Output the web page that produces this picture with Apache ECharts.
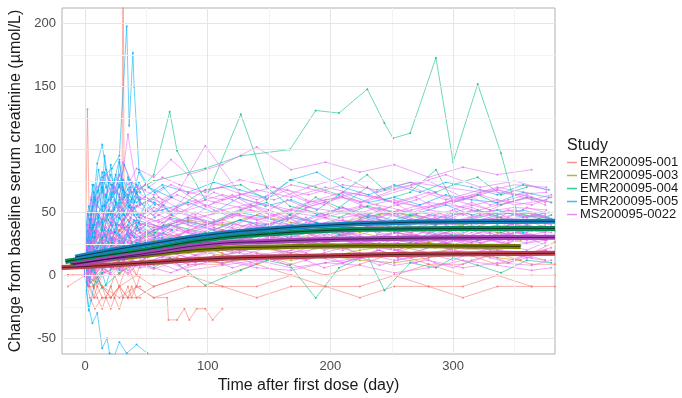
<!DOCTYPE html>
<html><head><meta charset="utf-8">
<script src="https://cdn.jsdelivr.net/npm/echarts@6/dist/echarts.min.js"></script>
<style>html,body{margin:0;padding:0;background:#fff}#c{width:682px;height:398px}</style>
</head><body><div id="c"></div>
<script>
// ---------- labels ----------
const studies = ['EMR200095-001','EMR200095-003','EMR200095-004','EMR200095-005','MS200095-0022'];
const colors  = ['#F8766D','#A3A500','#00BF7D','#00B0F6','#E76BF3'];
const fitColors = ['#b9404c','#7d7e08','#0b8a5c','#1683bd','#a846b8'];
const xTicks = [0,100,200,300];
const xMinor = [50,150,250,350];
const yTicks = [-50,0,50,100,150,200];
const yMinor = [-25,25,75,125,175];
const xTitle = 'Time after first dose (day)';
const yTitle = 'Change from baseline serum creatinine (µmol/L)';
const legendTitle = 'Study';

// ---------- EMR200095-001 (red) ----------
const red_days = [-14,0,4,8,14,21,28,35,42,56,84,112,140,168,196,224,252,280,308,336,364,383];
const red_rows = [
 [0,0,-8.8,-17.7,-8.8,-17.7,-8.8,-17.7,-17.7,-8.8,0,-8.8,-8.8,0,-8.8,-8.8,0,-8.8,-8.8,0,-8.8,-8.8],
 [0,0,8.8,17.7,8.8,17.7,26.5,17.7,8.8,17.7,26.5,17.7,8.8,17.7,26.5,17.7,17.7,26.5,17.7,8.8,17.7,26.5],
 [0,0,0,0,8.8,0,0,8.8,0,0,0,0,8.8,0,0,0,0,8.8,0,0,0,0],
 [-8.8,0,-17.7,-26.5,-17.7,-17.7,-8.8,-17.7,-8.8,-17.7,-8.8,-8.8,-17.7,-8.8,-8.8,-17.7,-8.8,-8.8,-17.7,-8.8,-8.8,null],
 [0,0,17.7,26.5,35.4,26.5,35.4,44.2,35.4,26.5,35.4,44.2,35.4,26.5,35.4,44.2,35.4,26.5,35.4,44.2,35.4,35.4],
 [0,0,8.8,0,8.8,17.7,8.8,0,8.8,17.7,8.8,8.8,17.7,8.8,0,8.8,17.7,8.8,8.8,17.7,8.8,8.8]
];
const red_short_days = [0,3,7,10,14,17,21,24,28,31,35,38,42,45];
const red_short_rows = [
 [0,-8.8,-17.7,-8.8,-17.7,-17.7,-26.5,-17.7,-8.8,-17.7,-17.7,-8.8,-17.7,-17.7],
 [0,8.8,0,-8.8,0,8.8,17.7,8.8,0,8.8,17.7,8.8,0,8.8],
 [0,-8.8,-8.8,-17.7,-26.5,-17.7,-8.8,-17.7,-26.5,-17.7,-8.8,-17.7,-8.8,-8.8],
 [0,17.7,26.5,35.4,26.5,44.2,35.4,26.5,35.4,44.2,35.4,26.5,17.7,26.5],
 [0,0,-8.8,0,-8.8,-17.7,-8.8,0,-8.8,0,8.8,0,-8.8,0]
];
const red_low = [[0,0],[14,-8.8],[28,-17.7],[42,-8.8],[56,-17.7],[67,-17.7],[68,-35.4],[75,-35.4],[81,-26.5],[85,-35.4],[91,-26.5],[98,-26.5],[104,-35.4],[112,-26.5]];
const red_spike1 = [[-10,0],[0,0],[2,132],[4,8.8],[8,0],[14,-8.8],[21,-17.7],[28,-8.8],[42,0],[56,-8.8],[84,0]];
const red_spike2 = [[0,0],[7,8.8],[14,17.7],[21,8.8],[28,17.7],[30,17.7],[31,300],[32,8.8],[35,26.5],[42,17.7],[56,8.8],[84,17.7],[112,8.8]];

// ---------- EMR200095-003 (olive) ----------
const olive_days = [0,7,14,28,42,56,84,112,140,168,196,224,252,280,308,336,355];
const olive_rows = [
 [0,10,18,24,20,28,26,32,28,24,30,34,28,26,32,30,28],
 [0,4,8,14,10,16,20,16,22,18,14,20,24,18,22,20,24],
 [0,20,30,36,42,38,44,40,48,42,38,46,50,44,40,46,42],
 [0,-4,2,6,10,8,12,10,14,12,16,12,10,14,18,14,12],
 [0,14,24,20,28,34,30,36,32,28,36,40,34,30,38,34,36]
];

// ---------- EMR200095-004 (green) ----------
const green_days = [0,7,14,28,42,56,69,98,127,148,167,188,207,230,244,265,286,300,320,339,360,380];
const green_rows = [
 [0,12,22,30,26,36,40,34,44,38,48,42,36,46,50,44,40,48,52,46,42,48],
 [0,-8,5,12,20,16,24,30,26,34,28,22,32,38,30,26,36,32,28,34,40,36],
 [0,30,45,40,55,62,50,68,72,60,76,70,64,80,68,74,66,72,78,64,70,null],
 [0,5,-10,2,10,6,14,-8,4,12,8,-18,6,16,-12,10,6,14,8,2,12,10],
 [0,18,28,24,38,32,46,40,52,58,48,62,54,70,60,66,84,58,64,56,62,58]
];
const green_big = [[0,0],[14,40],[28,60],[56,75],[98,85],[127,95],[167,100],[188,131],[207,129],[230,148],[244,121],[251,109],[265,113],[286,173],[300,90],[320,152],[339,97],[352,50],[370,45]];
const green_spike = [[0,0],[14,30],[28,50],[42,65],[56,80],[69,130],[75,99],[98,60],[127,128],[148,70],[167,55],[188,50],[207,46],[230,55],[265,48],[300,42],[339,50],[380,45]];

// ---------- EMR200095-005 (blue) ----------
const blue_short_days = [0,1,3,5,7,10,14,17,21,24,28,31,35,38,42,45];
const blue_short_rows = [
 [0,15,30,45,62,55,70,58,88,65,72,60,78,66,null,null],
 [0,20,35,50,58,89,104,84,72,66,80,70,62,58,66,60],
 [0,8,18,12,28,22,36,30,42,34,48,40,null,null,null,null],
 [0,30,22,44,38,56,50,64,48,60,54,68,58,52,62,56],
 [0,4,10,2,14,8,20,12,24,16,10,22,18,null,null,null],
 [0,40,55,48,66,58,74,62,80,70,64,76,68,60,72,66],
 [0,12,24,36,30,42,36,48,40,54,null,null,null,null,null,null],
 [0,-6,5,15,10,22,18,28,24,34,30,26,36,32,40,34],
 [0,18,32,26,40,50,44,56,62,52,58,48,60,54,null,null],
 [0,10,4,16,20,14,26,22,30,18,28,24,32,26,22,30],
 [0,-12,-28,-20,-10,-5,2,-8,5,10,4,12,null,null,null,null],
 [0,25,48,60,72,66,82,70,64,76,92,68,60,74,66,58]
];
const blue_mid_days = [0,2,4,6,8,11,14,16,19,22,25,28,32,36,40,44,50,57,64,71];
const blue_mid_rows = [
 [0,20,45,30,60,42,70,55,48,66,58,75,62,54,68,60,52,58,null,null],
 [0,-8,12,4,20,14,30,22,36,28,40,32,26,38,30,42,36,30,34,28],
 [0,35,25,55,40,68,52,82,60,72,56,90,64,70,58,74,62,56,null,null],
 [0,10,22,16,30,24,38,32,26,40,34,46,38,30,44,36,40,34,40,36],
 [0,5,-5,10,2,16,8,22,14,26,18,12,24,20,null,null,null,null,null,null],
 [0,50,38,72,60,84,66,95,74,62,80,70,88,76,68,82,72,66,70,62],
 [0,15,28,40,34,48,42,36,52,46,58,50,44,56,48,42,52,46,null,null],
 [0,28,18,38,30,46,36,56,44,50,40,62,48,42,54,46,58,50,56,48]
];
const blue_long_days = [0,3,7,14,21,28,35,42,63,84,105,126,147,168,189,210,231,252,273,294,315,336,357,378];
const blue_long_rows = [
 [0,20,35,42,50,45,55,48,52,58,50,62,55,60,52,66,58,62,56,64,60,58,66,62],
 [0,10,18,25,30,26,34,30,38,42,36,44,40,46,42,38,48,44,50,46,42,48,52,46],
 [0,28,40,55,60,70,64,58,72,66,74,68,62,76,82,70,64,72,66,74,70,64,72,68],
 [0,5,12,18,14,22,20,26,30,24,32,28,34,30,36,32,28,34,38,30,36,40,34,38],
 [0,15,22,30,36,32,40,44,38,46,42,50,46,40,48,54,46,42,50,56,48,52,46,50]
];
const blue_low = [[0,0],[3,-25],[6,-38],[10,-30],[14,-58],[18,-50],[20,-62],[24,-64],[28,-53],[34,-62],[42,-55],[51,-62]];
const blue_spike = [[0,0],[4,40],[8,60],[14,78],[22,85],[28,95],[34,198],[36,119],[39,177],[40,150],[44,84],[52,70],[70,62]];

// ---------- MS200095-0022 (magenta) ----------
const ms_daysA = [0,3,7,14,21,28,35,42,56,70,84,112,140,168,196,224,252,280,308,336,364,380];
const ms_daysB = [0,2,5,10,17,24,31,38,49,63,77,98,126,154,182,210,238,266,294,322,350,376];
const ms_daysC = [0,4,9,16,23,30,37,45,60,75,90,105,120,135,150,165,180,195,210,225,240,255,270,285,300,315,330,345,360,375];
const ms_rowsA = [
 [0,12,20,28,35,30,38,42,40,36,45,50,44,52,48,55,50,58,54,60,56,62],
 [0,20,35,45,40,55,48,62,58,50,65,70,60,72,66,58,68,75,62,70,65,null],
 [0,15,25,32,28,40,35,30,38,45,40,35,42,38,46,40,36,44,50,42,48,45],
 [0,2,5,10,6,12,8,15,12,18,14,10,16,20,14,18,12,16,22,18,14,null],
 [0,10,14,22,18,26,20,28,24,30,22,32,28,36,30,26,34,30,38,32,36,34],
 [0,-8,-2,4,0,6,2,8,5,10,4,8,12,6,10,14,8,12,6,10,8,12],
 [0,35,60,75,68,80,72,85,78,92,80,88,102,84,90,82,88,78,86,80,84,null],
 [0,22,30,38,45,40,50,46,54,48,42,52,58,50,46,54,60,52,48,56,62,58],
 [0,28,42,50,58,52,60,55,48,62,56,64,58,52,60,66,58,54,62,68,60,64],
 [0,16,26,20,30,24,34,28,32,26,36,30,40,34,38,32,42,36,30,38,44,40],
 [0,4,0,6,2,8,4,10,6,2,8,12,6,4,10,8,2,6,12,8,4,6],
 [0,20,28,24,34,30,26,36,30,40,34,28,38,32,26,36,42,34,30,38,32,36],
 [0,40,58,66,75,62,112,70,64,72,66,60,68,62,70,64,58,66,60,68,62,null],
 [0,12,18,26,22,30,34,28,36,40,34,42,38,46,40,44,38,48,42,46,50,44],
 [0,-4,4,10,16,12,20,16,22,18,14,20,24,18,22,26,20,16,24,20,18,22]
];
const ms_rowsB = [
 [0,5,10,8,15,12,18,22,20,25,18,28,24,30,26,22,30,28,34,30,32,28],
 [0,-5,2,8,4,10,6,12,10,15,8,14,18,12,16,10,20,14,18,22,16,20],
 [0,8,18,25,22,30,26,35,28,32,38,30,36,42,34,40,45,38,42,48,40,44],
 [0,25,40,55,48,60,52,70,62,58,68,103,65,60,70,78,66,72,80,70,75,68],
 [0,30,50,62,55,70,58,66,72,60,68,55,64,70,58,66,62,70,60,68,64,66],
 [0,18,22,30,35,28,38,32,40,36,44,40,48,42,38,46,50,44,40,48,52,46],
 [0,6,12,20,16,24,20,18,26,22,28,24,20,30,26,22,28,32,26,30,24,28],
 [0,12,8,16,12,20,14,24,18,14,22,26,20,16,24,28,22,18,26,30,24,null],
 [0,3,8,14,10,18,12,22,16,20,26,22,18,28,24,20,30,26,22,28,34,30],
 [0,40,62,70,80,66,90,74,68,78,72,66,76,70,64,72,68,74,70,66,72,70],
 [0,14,24,32,28,36,30,40,34,38,32,42,36,30,40,44,38,34,42,36,40,38],
 [0,10,20,15,25,20,30,24,20,28,22,32,26,22,30,34,28,24,32,26,30,28],
 [0,8,14,10,18,22,16,24,20,26,30,24,28,34,28,24,32,36,30,26,34,30],
 [0,24,34,42,38,48,44,52,46,42,50,56,48,44,54,50,46,52,58,50,54,52],
 [0,32,46,40,54,48,58,52,46,56,50,60,54,48,58,62,56,50,58,64,56,60]
];
const ms_rowsC = [
 [0,8,15,22,18,26,30,24,32,28,34,30,26,32,36,30,34,28,32,38,34,30,36,32,28,34,38,32,36,34],
 [0,18,28,36,42,38,46,40,44,50,46,42,48,52,46,50,44,48,54,50,46,52,48,44,50,54,48,52,46,50],
 [0,-3,4,8,12,10,16,14,18,12,16,20,14,18,22,16,12,18,22,16,20,14,18,24,20,16,22,18,14,20],
 [0,26,38,46,52,58,50,56,62,54,48,58,64,56,52,60,54,58,62,56,50,58,62,54,60,56,52,58,62,56],
 [0,10,20,16,24,20,28,24,30,26,22,28,32,26,30,24,28,34,28,24,30,26,32,28,24,30,34,28,26,30],
 [0,4,12,20,26,22,30,34,28,36,32,38,34,30,36,40,34,38,32,36,42,36,32,38,34,40,36,32,38,36],
 [0,14,24,18,30,26,20,28,34,30,24,32,28,22,30,36,28,24,32,26,30,34,28,24,30,36,30,26,32,28],
 [0,32,48,56,50,44,52,58,48,54,60,52,46,56,50,44,54,58,50,46,52,56,48,44,52,58,52,46,54,50],
 [0,6,2,10,6,14,8,12,18,14,10,16,12,8,14,18,12,16,10,14,20,14,10,16,12,18,14,10,16,12],
 [0,20,34,28,40,34,44,38,32,40,46,38,34,42,36,40,46,38,34,42,48,40,36,44,38,42,36,40,44,38],
 [0,12,18,24,30,26,20,28,24,32,28,22,30,26,34,28,24,30,36,30,26,32,28,24,30,26,32,28,34,30],
 [0,36,56,64,72,60,68,62,56,64,58,66,60,54,62,68,60,56,64,58,62,56,60,66,58,62,56,60,64,58],
 [0,2,8,14,20,16,22,18,24,20,26,22,18,24,28,22,26,20,24,30,24,20,26,22,28,24,20,26,30,24],
 [0,16,30,38,34,42,36,30,38,44,38,32,40,46,40,34,42,38,44,40,36,42,38,46,40,36,42,46,40,44],
 [0,-6,-2,2,6,4,8,6,10,4,8,12,6,10,14,8,12,6,10,14,8,12,16,10,6,12,16,10,14,12],
 [0,22,36,30,44,52,46,40,48,42,50,44,38,46,52,46,40,48,54,46,42,50,44,48,52,46,42,50,46,48],
 [0,9,16,12,22,18,26,20,24,30,26,22,28,32,26,30,24,28,34,28,24,30,26,32,28,26,30,34,28,32],
 [0,28,20,34,26,40,32,46,38,30,42,36,28,40,34,46,38,32,40,36,44,38,32,40,46,38,34,42,38,40],
 [0,12,6,18,24,20,14,22,28,22,16,24,20,26,30,24,18,26,22,28,24,20,26,30,24,22,28,24,20,26],
 [0,40,30,50,44,38,56,48,42,52,46,40,50,56,48,44,52,46,40,50,54,48,44,50,46,52,48,44,50,46]
];

// ---------- model fits ----------
const fit001 = [[-19,6.3],[0,7],[25,8.5],[50,10],[100,13],[150,14.5],[200,15.5],[250,16.5],[300,17],[383,17.5]];
const fit003 = [[-12,9],[0,10.5],[25,13.5],[50,16],[100,21],[150,22.5],[200,23.3],[250,23.5],[300,23.4],[355,23]];
const fit004 = [[-16,11],[0,13.5],[25,17],[50,20.5],[100,28.5],[150,33],[200,35.8],[250,36.8],[300,37.2],[383,37.3]];
const fit005 = [[-8,14.5],[0,16],[25,20.5],[50,24.5],[100,32],[150,36.8],[200,40],[250,41.8],[300,42.6],[383,43]];
const fitMS  = [[-10,8.5],[0,10],[25,14],[50,17.5],[100,24.5],[150,27],[200,28.5],[250,29.3],[300,29.8],[383,30.2]];

// ---------- build ----------
function subj(name, color, pts){
  return {type:'line', name:name, data:pts, showSymbol:true, showAllSymbol:true,
    symbol:'circle', symbolSize:2, silent:true, z:2,
    lineStyle:{color:color, width:0.8, opacity:0.72},
    itemStyle:{color:color, opacity:0.8}};
}
function fromRows(name, color, days, rows){
  return rows.map(r => subj(name, color, days.map((d,i)=>[d, r[i]]).filter(p => p[1] !== null)));
}
const series = [];
const gl = [];
xMinor.forEach(v => gl.push({xAxis:v, lineStyle:{color:'#f3f3f3', width:1, type:'solid'}}));
yMinor.forEach(v => gl.push({yAxis:v, lineStyle:{color:'#f3f3f3', width:1, type:'solid'}}));
xTicks.forEach(v => gl.push({xAxis:v, lineStyle:{color:'#e5e5e5', width:1, type:'solid'}}));
yTicks.forEach(v => gl.push({yAxis:v, lineStyle:{color:'#e5e5e5', width:1, type:'solid'}}));
series.push({type:'line', name:'grid', data:[[0,0]], symbol:'none', lineStyle:{opacity:0}, silent:true, z:1,
  markLine:{silent:true, symbol:['none','none'], label:{show:false}, animation:false, data:gl}});

series.push(...fromRows(studies[0], colors[0], red_days, red_rows));
series.push(...fromRows(studies[0], colors[0], red_short_days, red_short_rows));
series.push(subj(studies[0], colors[0], red_low), subj(studies[0], colors[0], red_spike1), subj(studies[0], colors[0], red_spike2));
series.push(...fromRows(studies[1], colors[1], olive_days, olive_rows));
series.push(...fromRows(studies[2], colors[2], green_days, green_rows));
series.push(subj(studies[2], colors[2], green_big), subj(studies[2], colors[2], green_spike));
series.push(...fromRows(studies[3], colors[3], blue_long_days, blue_long_rows));
series.push(...fromRows(studies[3], colors[3], blue_short_days, blue_short_rows));
series.push(...fromRows(studies[4], colors[4], ms_daysA, ms_rowsA));
series.push(...fromRows(studies[4], colors[4], ms_daysC, ms_rowsC));
series.push(...fromRows(studies[3], colors[3], blue_mid_days, blue_mid_rows));
series.push(...fromRows(studies[4], colors[4], ms_daysB, ms_rowsB));
series.push(subj(studies[3], colors[3], blue_low), subj(studies[3], colors[3], blue_spike));

const fits = [fit001, fit003, fit004, fit005, fitMS];
fits.forEach((f, i) => {
  series.push({type:'line', name:'fit'+i, data:f, smooth:true, symbol:'none', silent:true, z:5,
    lineStyle:{color:fitColors[i], width:5}});
  series.push({type:'line', name:'fitc'+i, data:f, smooth:true, symbol:'none', silent:true, z:6,
    lineStyle:{color:'#000', width:0.8, opacity:0.75}});
});

const chart = echarts.init(document.getElementById('c'), null, {renderer:'canvas'});
chart.setOption({
  animation:false,
  backgroundColor:'#ffffff',
  textStyle:{fontFamily:'Liberation Sans, Arial, sans-serif'},
  title:{text:legendTitle, left:567, top:138, padding:0,
    textStyle:{fontSize:16, fontWeight:'normal', color:'#1a1a1a', fontFamily:'Liberation Sans, Arial, sans-serif'}},
  legend:{orient:'vertical', left:567, top:156, padding:0, itemGap:0, itemWidth:10, itemHeight:1.5,
    selectedMode:false, icon:'rect',
    textStyle:{fontSize:13, color:'#1a1a1a', padding:[0,0,0,-2], fontFamily:'Liberation Sans, Arial, sans-serif'},
    data:studies.map((s,i)=>({name:s, icon:'rect', itemStyle:{color:colors[i], opacity:0.8}}))},
  grid:{left:62, right:127, top:8, bottom:44, show:true, borderColor:'#b0b0b0', borderWidth:1,
    backgroundColor:'#ffffff', containLabel:false, outerBoundsMode:'none'},
  xAxis:{type:'value', min:-18.75, max:383,
    name:xTitle, nameLocation:'middle', nameGap:23,
    nameTextStyle:{fontSize:16, color:'#1a1a1a', fontFamily:'Liberation Sans, Arial, sans-serif'},
    axisLine:{show:false}, splitLine:{show:false},
    axisTick:{show:true, length:4, customValues:xTicks, lineStyle:{color:'#9a9a9a'}},
    axisLabel:{customValues:xTicks, fontSize:13, color:'#4d4d4d', margin:6, fontFamily:'Liberation Sans, Arial, sans-serif'}},
  yAxis:{type:'value', min:-62.5, max:212.5,
    name:yTitle, nameLocation:'middle', nameGap:36, nameRotate:90,
    nameTextStyle:{fontSize:16, color:'#1a1a1a', fontFamily:'Liberation Sans, Arial, sans-serif'},
    axisLine:{show:false}, splitLine:{show:false},
    axisTick:{show:true, length:4, customValues:yTicks, lineStyle:{color:'#9a9a9a'}},
    axisLabel:{customValues:yTicks, fontSize:13, color:'#4d4d4d', margin:6, fontFamily:'Liberation Sans, Arial, sans-serif'}},
  series:series
});
</script></body></html>
